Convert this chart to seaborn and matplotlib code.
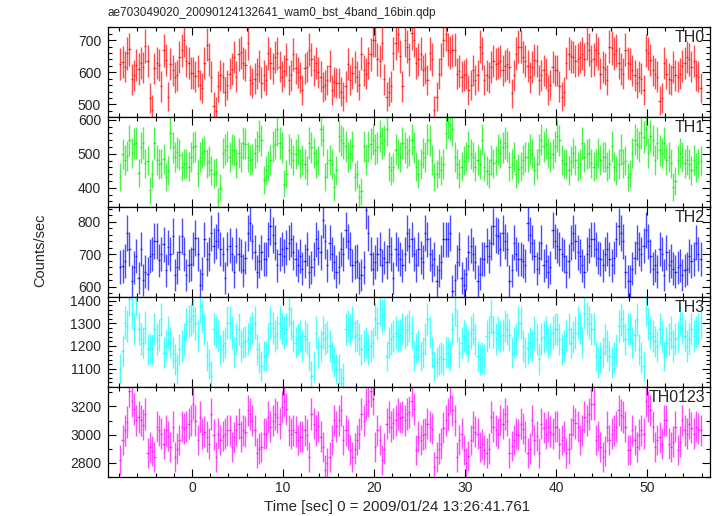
from pathlib import Path

import matplotlib.pyplot as plt
from matplotlib.ticker import MultipleLocator
import numpy as np
import seaborn as sns


OUTPUT_FILE = Path("out.png")

TITLE = "ae703049020_20090124132641_wam0_bst_4band_16bin.qdp"
XLABEL = "Time [sec] 0 = 2009/01/24 13:26:41.761"
YLABEL = "Counts/sec"

# 0.25 s bins (16 x 1/64 s), first bin starts at -8 s
T_START = -8.0
BIN = 0.25

BANDS = ["TH0", "TH1", "TH2", "TH3", "TH0123"]
COLORS = ["#ff0000", "#00ee00", "#0000ff", "#00ffff", "#ff00ff"]
YLIMS = [(460, 740), (343, 608), (568, 846), (1020, 1416), (2700, 3340)]
Y_MAJOR = [100, 100, 100, 100, 200]
Y_MINOR = [20, 20, 20, 20, 100]

TH0 = [
    625, 632, 618, 660, 672, 578, 590, 622, 610, 628, 615, 682, 636, 520, 484, 612,
    628, 624, 556, 668, 638, 524, 626, 606, 584, 590, 648, 668, 700, 636, 628, 598,
    598, 588, 604, 560, 552, 630, 686, 640, 586, 494, 480, 556, 590, 584, 540, 560,
    596, 610, 648, 586, 656, 662, 628, 624, 690, 576, 566, 580, 596, 620, 568, 590,
    576, 660, 628, 612, 648, 660, 618, 586, 604, 640, 576, 590, 656, 612, 600, 584,
    546, 612, 618, 670, 640, 606, 628, 600, 586, 554, 560, 576, 620, 546, 570, 566,
    566, 540, 524, 556, 626, 576, 598, 616, 586, 560, 658, 606, 596, 630, 656, 700,
    700, 640, 636, 690, 578, 524, 540, 556, 660, 690, 718, 650, 556, 700, 680, 640,
    722, 700, 630, 640, 658, 606, 612, 576, 660, 640, 482, 524, 596, 640, 700, 720,
    670, 662, 668, 670, 596, 604, 586, 590, 596, 546, 560, 606, 576, 590, 680, 660,
    576, 590, 584, 616, 636, 626, 628, 636, 606, 620, 627, 616, 534, 590, 658, 680,
    680, 648, 636, 620, 584, 616, 638, 636, 576, 590, 606, 596, 546, 560, 616, 606,
    606, 556, 524, 540, 628, 658, 650, 648, 636, 640, 648, 658, 640, 690, 670, 636,
    640, 670, 660, 596, 616, 610, 576, 680, 676, 658, 668, 628, 610, 596, 670, 630,
    626, 606, 590, 566, 586, 580, 544, 668, 660, 638, 606, 596, 586, 512, 520, 628,
    596, 580, 576, 616, 590, 586, 596, 620, 628, 648, 640, 618, 636, 590, 586, 550,
]

TH1 = [
    432, 500, 482, 494, 540, 502, 530, 532, 444, 520, 532, 472, 480, 392, 440, 532,
    482, 470, 472, 484, 432, 450, 562, 520, 492, 504, 498, 462, 470, 472, 462, 492,
    520, 522, 444, 490, 502, 508, 472, 478, 452, 442, 446, 362, 400, 502, 512, 522,
    492, 512, 510, 472, 502, 490, 532, 530, 492, 482, 486, 502, 522, 552, 540, 422,
    452, 464, 482, 522, 530, 572, 532, 520, 412, 440, 512, 502, 482, 500, 512, 472,
    482, 470, 452, 532, 520, 502, 472, 480, 572, 540, 432, 472, 482, 470, 402, 452,
    552, 540, 532, 522, 492, 500, 522, 432, 440, 372, 390, 522, 482, 522, 530, 542,
    512, 520, 552, 532, 540, 572, 462, 452, 460, 512, 500, 492, 532, 520, 502, 510,
    542, 520, 462, 442, 470, 502, 492, 542, 540, 482, 432, 440, 472, 452, 470, 562,
    592, 586, 572, 492, 470, 442, 462, 480, 492, 522, 500, 492, 462, 482, 470, 542,
    462, 450, 442, 482, 472, 480, 512, 502, 520, 532, 522, 462, 470, 492, 442, 456,
    462, 482, 490, 492, 512, 500, 452, 470, 512, 542, 522, 530, 502, 492, 500, 522,
    552, 540, 482, 472, 470, 452, 480, 502, 482, 462, 470, 532, 492, 500, 502, 472,
    462, 470, 502, 482, 490, 492, 462, 470, 522, 462, 452, 470, 512, 472, 480, 432,
    440, 502, 542, 530, 522, 562, 550, 572, 502, 552, 540, 482, 532, 510, 502, 532,
    482, 490, 472, 402, 420, 482, 502, 490, 472, 482, 470, 452, 482, 460, 472, 480,
]

TH2 = [
    661, 664, 680, 766, 716, 616, 660, 696, 626, 716, 621, 646, 640, 696, 700, 741,
    741, 681, 700, 731, 651, 721, 700, 756, 636, 660, 706, 756, 700, 636, 666, 670,
    716, 751, 700, 606, 640, 746, 686, 700, 766, 726, 740, 776, 716, 700, 626, 716,
    726, 700, 646, 726, 700, 696, 651, 690, 766, 796, 740, 706, 646, 680, 706, 686,
    686, 746, 786, 760, 736, 666, 700, 716, 696, 720, 736, 746, 706, 686, 666, 696,
    656, 680, 716, 646, 660, 686, 746, 720, 706, 806, 740, 666, 736, 700, 676, 646,
    660, 716, 700, 776, 740, 716, 666, 676, 680, 626, 636, 660, 836, 766, 700, 656,
    676, 700, 716, 666, 690, 676, 726, 700, 626, 716, 700, 686, 666, 700, 766, 726,
    746, 700, 666, 716, 690, 676, 766, 746, 700, 666, 686, 616, 650, 676, 746, 746,
    746, 766, 586, 620, 676, 716, 626, 606, 640, 706, 726, 700, 676, 616, 640, 686,
    686, 726, 696, 736, 786, 760, 756, 716, 766, 740, 716, 616, 650, 736, 700, 686,
    686, 680, 666, 796, 760, 736, 696, 656, 690, 736, 666, 680, 646, 660, 776, 740,
    726, 716, 700, 696, 646, 680, 736, 766, 740, 706, 696, 666, 646, 700, 726, 746,
    746, 716, 690, 686, 666, 700, 716, 686, 666, 690, 746, 786, 766, 740, 646, 616,
    616, 656, 690, 736, 716, 700, 726, 776, 740, 696, 656, 666, 646, 716, 700, 636,
    706, 666, 680, 656, 646, 660, 666, 636, 650, 656, 696, 680, 686, 736, 700, 686,
]

TH3 = [
    1097, 1180, 1303, 1288, 1406, 1347, 1274, 1406, 1274, 1230, 1215, 1281, 1185, 1190, 1185, 1274,
    1229, 1250, 1318, 1171, 1200, 1259, 1215, 1171, 1140, 1097, 1185, 1200, 1229, 1296, 1310, 1318,
    1332, 1300, 1244, 1376, 1330, 1274, 1156, 1120, 1068, 1274, 1260, 1244, 1185, 1200, 1215, 1303,
    1303, 1259, 1171, 1230, 1274, 1200, 1215, 1220, 1229, 1259, 1280, 1303, 1185, 1150, 1112, 1156,
    1156, 1229, 1303, 1280, 1244, 1259, 1303, 1280, 1259, 1274, 1362, 1300, 1244, 1215, 1230, 1244,
    1200, 1244, 1230, 1156, 1068, 1110, 1259, 1171, 1200, 1259, 1229, 1240, 1200, 1156, 1130, 1097,
    1097, 1038, 1060, 1274, 1288, 1270, 1303, 1244, 1250, 1229, 1185, 1200, 1215, 1185, 1200, 1215,
    1318, 1300, 1362, 1332, 1340, 1156, 1215, 1230, 1244, 1259, 1244, 1250, 1274, 1259, 1270, 1288,
    1259, 1156, 1190, 1200, 1156, 1171, 1229, 1318, 1260, 1171, 1112, 1130, 1141, 1150, 1141, 1171,
    1171, 1156, 1274, 1362, 1290, 1171, 1215, 1244, 1230, 1200, 1259, 1274, 1230, 1156, 1141, 1150,
    1141, 1244, 1260, 1332, 1260, 1229, 1259, 1244, 1250, 1288, 1274, 1250, 1171, 1215, 1230, 1303,
    1303, 1200, 1171, 1190, 1215, 1200, 1259, 1230, 1141, 1229, 1240, 1259, 1215, 1230, 1259, 1274,
    1274, 1229, 1185, 1200, 1244, 1274, 1215, 1240, 1259, 1303, 1280, 1215, 1347, 1320, 1303, 1274,
    1274, 1156, 1127, 1150, 1171, 1229, 1200, 1156, 1127, 1150, 1185, 1288, 1318, 1290, 1229, 1274,
    1274, 1215, 1250, 1318, 1185, 1150, 1112, 1362, 1300, 1259, 1244, 1220, 1200, 1274, 1240, 1156,
    1215, 1230, 1259, 1200, 1229, 1240, 1318, 1280, 1244, 1200, 1230, 1274, 1244, 1260, 1274, 1303,
]

TH0123 = [
    2819, 2960, 3031, 3089, 3313, 3242, 3180, 3101, 3125, 3101, 3070, 3148, 2866, 2913, 2880, 2842,
    3054, 3030, 3007, 2936, 3031, 2990, 2913, 3054, 2842, 2900, 2960, 3054, 3040, 3054, 3078, 3100,
    3219, 3100, 2960, 3125, 3007, 3020, 2984, 2936, 3148, 3000, 2842, 3007, 2960, 2990, 3007, 3031,
    3031, 2913, 2980, 3031, 3078, 2984, 3031, 3020, 3172, 3148, 3100, 3031, 2866, 2900, 2913, 3007,
    3007, 3125, 3054, 3100, 3148, 3125, 3078, 3195, 3242, 3180, 3031, 3007, 3031, 3020, 2960, 2984,
    2984, 3031, 3000, 2842, 3148, 3078, 3031, 3060, 2984, 2913, 2748, 2800, 2842, 2960, 3101, 3060,
    3101, 3172, 2960, 3031, 3000, 2889, 2842, 2900, 2960, 3007, 3148, 3100, 3219, 3242, 3313, 3250,
    2913, 3031, 2960, 2819, 2900, 3078, 3125, 3054, 3080, 3101, 3148, 3120, 3125, 3101, 3148, 3160,
    3242, 3180, 2889, 2984, 2960, 3000, 3007, 3078, 3054, 3040, 2772, 2842, 2900, 2936, 3050, 3101,
    3148, 3266, 3172, 3100, 2842, 2960, 3007, 2889, 2795, 2850, 2960, 3054, 3020, 3007, 2913, 2930,
    2889, 2866, 2900, 3125, 3054, 3030, 3007, 3101, 3078, 3148, 3100, 2866, 2920, 2960, 3007, 3000,
    3078, 3040, 2984, 2866, 2900, 3101, 2960, 2990, 2866, 3078, 3050, 3007, 3054, 3020, 3007, 3054,
    3054, 2936, 2960, 2984, 2866, 2900, 3007, 3101, 3080, 3054, 2960, 3031, 3125, 3100, 3148, 3219,
    3219, 2960, 2990, 2913, 2842, 2880, 3054, 2960, 3007, 3030, 3054, 3172, 3140, 3125, 3054, 2889,
    2889, 3031, 2960, 2913, 3000, 3031, 3007, 3242, 3200, 3172, 3054, 2913, 2960, 2980, 2936, 3101,
    3101, 2936, 2913, 2950, 3054, 2889, 2950, 3101, 3030, 3007, 3078, 3050, 3007, 3054, 3040, 3031,
]

RATES = [TH0, TH1, TH2, TH3, TH0123]
FONT = ["Liberation Sans", "DejaVu Sans"]


def setup_plot_style() -> None:
    sns.set_theme(style="ticks", rc={"axes.linewidth": 0.9})
    plt.rcParams["font.family"] = FONT
    plt.rcParams["font.size"] = 10


def plot_band(ax, rate, color, band, ylim, major, minor) -> None:
    rate = np.asarray(rate, dtype=float)
    time = T_START + BIN / 2 + BIN * np.arange(len(rate))
    # Poisson error for a 0.25 s bin
    err = np.sqrt(rate * BIN) / BIN
    ax.errorbar(
        time, rate, xerr=BIN / 2, yerr=err, fmt="none",
        ecolor=color, elinewidth=1.0, alpha=0.7, capsize=0,
    )
    ax.set_ylim(*ylim)
    ax.yaxis.set_major_locator(MultipleLocator(major))
    ax.yaxis.set_minor_locator(MultipleLocator(minor))
    ax.xaxis.set_major_locator(MultipleLocator(10))
    ax.xaxis.set_minor_locator(MultipleLocator(2))
    ax.tick_params(which="both", direction="in", top=True, right=True, color="black")
    ax.tick_params(which="major", length=6, width=0.8, pad=5, labelsize=10)
    ax.tick_params(axis="x", which="major", pad=3)
    ax.tick_params(which="minor", length=3, width=0.8)
    for spine in ax.spines.values():
        spine.set_color("black")
    ax.text(0.992, 0.965, band, transform=ax.transAxes, ha="right", va="top", fontsize=11.5)


if __name__ == "__main__":
    setup_plot_style()
    fig, axes = plt.subplots(5, 1, sharex=True, figsize=(7.17, 5.16), dpi=100)
    fig.subplots_adjust(left=0.1506, right=0.990, top=0.947, bottom=0.0762, hspace=0)

    for ax, rate, color, band, ylim, major, minor in zip(
        axes, RATES, COLORS, BANDS, YLIMS, Y_MAJOR, Y_MINOR
    ):
        plot_band(ax, rate, color, band, ylim, major, minor)

    axes[-1].set_xlim(-9.23, 56.9)
    fig.text(0.1506, 1 - 13 / 516, TITLE, ha="left", va="center", fontsize=8.5)
    fig.text(397 / 717, 1 - 507 / 516, XLABEL, ha="center", va="center", fontsize=10.8)
    fig.text(40 / 717, 1 - 250 / 516, YLABEL, ha="center", va="center", rotation=90, fontsize=10.5)

    fig.savefig(OUTPUT_FILE, dpi=100)
    plt.close(fig)
